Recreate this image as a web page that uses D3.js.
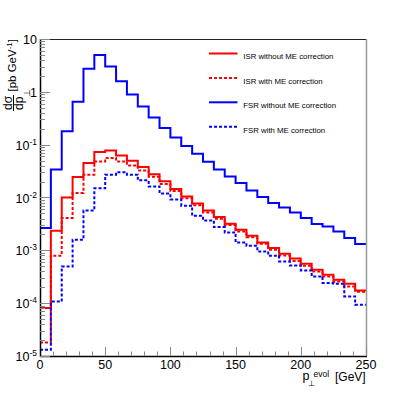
<!DOCTYPE html>
<meta charset="utf-8">
<html>
  <head>
    <style>
      body { margin: 0; background: #fff; }
      text { font-family: "Liberation Sans", Arial, sans-serif; fill: #000; }
    </style>
    <script src="https://d3js.org/d3.v7.min.js"></script>
  </head>
  <body>
<div id="my_dataviz"></div>

<script>

// bins: 30 bins from 0 to 250 GeV
var nBins = 30,
  xMin = 0,
  xMax = 250;

// dsigma/dpT values per bin [pb/GeV]
var isrNoME = [8.1e-5, 2.35e-3, 0.0100, 0.0244, 0.0450, 0.0726, 0.0778, 0.0626, 0.0497, 0.0378,
  0.0276, 0.0203, 0.0145, 0.0104, 0.00773, 0.00570, 0.00428, 0.00319, 0.00246, 0.00189,
  0.00141, 0.00111, 8.63e-4, 7.03e-4, 5.58e-4, 4.30e-4, 3.46e-4, 2.78e-4, 2.33e-4, 1.74e-4];
var isrME = [1.81e-5, 7.91e-4, 4.09e-3, 0.0122, 0.0270, 0.0480, 0.0559, 0.0480, 0.0403, 0.0324,
  0.0248, 0.0181, 0.0133, 0.0097, 0.00711, 0.00522, 0.00397, 0.00301, 0.00228, 0.00176,
  0.00133, 0.00103, 8.02e-4, 6.28e-4, 5.12e-4, 3.99e-4, 3.21e-4, 2.58e-4, 2.07e-4, 1.65e-4];
var fsrNoME = [2.65e-3, 0.0340, 0.180, 0.650, 2.74, 4.98, 3.03, 1.58, 0.890, 0.530,
  0.328, 0.207, 0.137, 0.094, 0.0675, 0.0476, 0.0340, 0.0251, 0.0188, 0.0136,
  0.0102, 0.00787, 0.00649, 0.00522, 0.00409, 0.00315, 0.00284, 0.00228, 0.00171, 0.00132];
var fsrME = [1.31e-5, 1.07e-4, 4.96e-4, 1.59e-3, 5.70e-3, 0.0149, 0.0270, 0.0301, 0.0270, 0.0211,
  0.0162, 0.0119, 0.0092, 0.0070, 0.00452, 0.00368, 0.00276, 0.00218, 0.00141, 0.00122,
  9.55e-4, 7.91e-4, 6.17e-4, 5.19e-4, 4.17e-4, 3.21e-4, 2.41e-4, 2.33e-4, 1.34e-4, 9.35e-5];

var seriesNames = ["ISR without ME correction", "ISR with ME correction",
  "FSR without ME correction", "FSR with ME correction"];
var seriesValues = [isrNoME, isrME, fsrNoME, fsrME];
var seriesColors = ["#ff0000", "#ff0000", "#0000ff", "#0000ff"];
var seriesDashed = [false, true, false, true];

var xTickLabels = [0, 50, 100, 150, 200, 250];
var yDecades = [1e-5, 1e-4, 1e-3, 1e-2, 1e-1, 1, 10];

// frame
var fLeft = 40, fRight = 366, fTop = 39, fBottom = 356;

var svg = d3.select("#my_dataviz")
  .append("svg")
  .attr("width", 407)
  .attr("height", 396);

var x = d3.scaleLinear().domain([xMin, xMax]).range([fLeft, fRight]);
var y = d3.scaleLog().domain([1e-5, 10]).range([fBottom, fTop]);

var binW = (xMax - xMin) / nBins;
var edges = d3.range(nBins + 1).map(function(i) { return xMin + i * binW; });

// histograms as step lines
var line = d3.line()
  .x(function(d) { return x(d[0]); })
  .y(function(d) { return y(d[1]); })
  .curve(d3.curveStepAfter);

seriesValues.forEach(function(vals, k) {
  var pts = vals.map(function(v, i) { return [edges[i], v]; });
  pts.push([edges[nBins], vals[nBins - 1]]);
  svg.append("path")
    .attr("d", line(pts))
    .attr("fill", "none")
    .attr("stroke", seriesColors[k])
    .attr("stroke-width", 2)
    .attr("stroke-dasharray", seriesDashed[k] ? "3,2" : null);
});

// frame lines
svg.append("line").attr("x1", fLeft).attr("x2", fRight).attr("y1", fTop + 0.5).attr("y2", fTop + 0.5)
  .attr("stroke", "#222");
svg.append("line").attr("x1", fRight + 0.5).attr("x2", fRight + 0.5).attr("y1", fTop).attr("y2", fBottom)
  .attr("stroke", "#999").attr("stroke-width", 1.5);

// x axis
svg.append("line").attr("x1", fLeft).attr("x2", fRight + 1).attr("y1", fBottom + 0.5).attr("y2", fBottom + 0.5)
  .attr("stroke", "#000").attr("stroke-width", 1.5);
var xMinor = d3.range(xMin, xMax + 1, 10);
svg.selectAll(".xtick").data(xMinor).enter().append("line")
  .attr("x1", function(d) { return Math.round(x(d)) + 0.5; })
  .attr("x2", function(d) { return Math.round(x(d)) + 0.5; })
  .attr("y1", fBottom)
  .attr("y2", function(d) { return d % 50 === 0 ? fBottom - 9 : fBottom - 4.5; })
  .attr("stroke", "#888");
svg.selectAll(".xlab").data(xTickLabels).enter().append("text")
  .attr("x", function(d) { return x(d); })
  .attr("y", 369)
  .attr("text-anchor", "middle")
  .attr("font-size", "12.5px")
  .text(function(d) { return d; });

// y axis
svg.append("line").attr("x1", fLeft + 0.5).attr("x2", fLeft + 0.5).attr("y1", fTop).attr("y2", fBottom + 1)
  .attr("stroke", "#000").attr("stroke-width", 1.5);
var yMinor = [];
yDecades.slice(0, -1).forEach(function(dec) {
  for (var m = 2; m <= 9; m++) yMinor.push(dec * m);
});
svg.selectAll(".ytickm").data(yMinor).enter().append("line")
  .attr("x1", fLeft).attr("x2", fLeft + 5)
  .attr("y1", function(d) { return Math.round(y(d)) + 0.5; })
  .attr("y2", function(d) { return Math.round(y(d)) + 0.5; })
  .attr("stroke", "#888");
svg.selectAll(".ytick").data(yDecades).enter().append("line")
  .attr("x1", fLeft).attr("x2", fLeft + 10)
  .attr("y1", function(d) { return Math.round(y(d)) + 0.5; })
  .attr("y2", function(d) { return Math.round(y(d)) + 0.5; })
  .attr("stroke", "#888");

var ylab = svg.selectAll(".ylab").data(yDecades).enter().append("text")
  .attr("x", 37)
  .attr("y", function(d) { return y(d) + 5; })
  .attr("text-anchor", "end")
  .attr("font-size", "12.5px");
ylab.each(function(d) {
  var t = d3.select(this);
  var p = Math.round(Math.log10(d));
  if (p === 1) { t.text("10"); return; }
  if (p === 0) { t.text("1"); return; }
  t.append("tspan").text("10");
  t.append("tspan").attr("font-size", "8.5px").attr("dy", -5).text(String(p));
});

// y title (rotated)
var yt = svg.append("g").attr("transform", "rotate(-90)");
yt.append("text").attr("x", -103).attr("y", 12).attr("text-anchor", "middle")
  .attr("font-size", "12px").text("dσ");
yt.append("line").attr("x1", -111).attr("x2", -95).attr("y1", 13.5).attr("y2", 13.5)
  .attr("stroke", "#000").attr("stroke-width", 1);
var ytd = yt.append("text").attr("x", -110).attr("y", 23).attr("font-size", "12px");
ytd.append("tspan").text("dp");
ytd.append("tspan").attr("font-size", "9px").attr("dy", 7).text("⊥");
var ytb = yt.append("text").attr("x", -39).attr("y", 16).attr("text-anchor", "end")
  .attr("font-size", "11.5px");
ytb.append("tspan").text("[pb GeV");
ytb.append("tspan").attr("font-size", "8px").attr("dy", -4.5).text("-1");
ytb.append("tspan").attr("dy", 4.5).text("]");

// x title
var xt = svg.append("text").attr("x", 302.5).attr("y", 379.5).attr("font-size", "12.5px");
xt.append("tspan").text("p");
xt.append("tspan").attr("font-size", "8px").attr("dx", -1.5).attr("dy", 6).text("⊥");
xt.append("tspan").attr("font-size", "8.5px").attr("dx", -1.5).attr("dy", -9).text("evol");
xt.append("tspan").attr("font-size", "12px").attr("x", 335).attr("dy", 4.5).text("[GeV]");

// legend
seriesNames.forEach(function(name, k) {
  var ly = 53.5 + k * 24.4;
  svg.append("line")
    .attr("x1", 209).attr("x2", 237.5)
    .attr("y1", ly).attr("y2", ly)
    .attr("stroke", seriesColors[k])
    .attr("stroke-width", 2)
    .attr("stroke-dasharray", seriesDashed[k] ? "3,2" : null);
  svg.append("text")
    .attr("x", 243.3)
    .attr("y", ly + 5.8)
    .attr("font-size", "7.8px")
    .attr("fill", "#111")
    .text(name);
});

</script>
</body>
</html>
